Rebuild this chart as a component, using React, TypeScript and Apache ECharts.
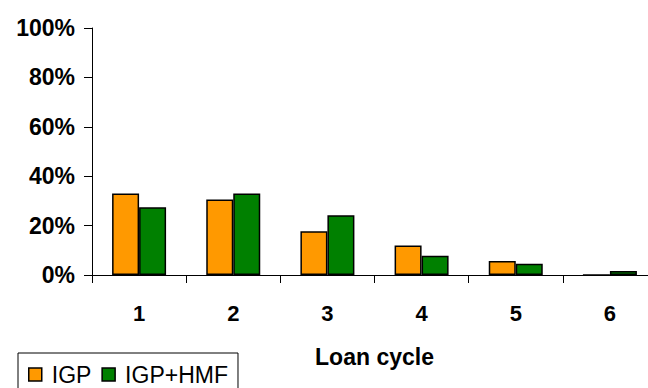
import React, { useEffect, useRef } from "react";
import * as echarts from "echarts";

const categories = ["1", "2", "3", "4", "5", "6"];
const igp = [33, 30.6, 17.7, 11.9, 5.7, 0];
const igpHmf = [27.4, 33, 24.2, 7.8, 4.6, 1.6];
const yTicks = [0, 20, 40, 60, 80, 100];

export default function App() {
  const ref = useRef<HTMLDivElement>(null);
  useEffect(() => {
    document.body.style.margin = "0";
    const chart = echarts.init(ref.current!, null, { renderer: "svg" });
    const font = "'Liberation Sans', Arial, sans-serif";
    chart.setOption({
      animation: false,
      backgroundColor: "#ffffff",
      grid: { left: 92, width: 565, top: 28, bottom: 113, containLabel: false },
      legend: {
        left: 18,
        top: 353,
        orient: "horizontal",
        borderColor: "#000",
        borderWidth: 1,
        padding: [10, 10, 10, 10],
        itemWidth: 13,
        itemHeight: 13,
        itemGap: 10,
        icon: "rect",
        textStyle: { fontFamily: font, fontSize: 23, color: "#000", padding: [0, 0, 0, 5] },
        data: [
          { name: "IGP", itemStyle: { color: "#FF9900", borderColor: "#000", borderWidth: 1.5 } },
          { name: "IGP+HMF", itemStyle: { color: "#008000", borderColor: "#000", borderWidth: 1.5 } },
        ],
      },
      xAxis: {
        type: "category",
        data: categories,
        name: "Loan cycle",
        nameLocation: "middle",
        nameGap: 70,
        nameTextStyle: { fontFamily: font, fontSize: 23, fontWeight: "bold", color: "#000" },
        axisLine: { lineStyle: { color: "#000", width: 1 } },
        axisTick: { show: true, length: 8, lineStyle: { color: "#000" } },
        axisLabel: { fontFamily: font, fontSize: 22, fontWeight: "bold", color: "#000", margin: 27 },
      },
      yAxis: {
        type: "value",
        min: 0,
        max: 100,
        interval: 20,
        axisLine: { show: true, lineStyle: { color: "#000", width: 1 } },
        axisTick: { show: true, length: 8, lineStyle: { color: "#000" } },
        splitLine: { show: false },
        axisLabel: {
          fontFamily: font,
          fontSize: 23,
          fontWeight: "bold",
          color: "#000",
          margin: 17,
          formatter: (v: number) => (yTicks.includes(v) ? v + "%" : ""),
        },
      },
      series: [
        {
          name: "IGP",
          type: "bar",
          data: igp,
          barWidth: 27,
          barGap: "0%",
          itemStyle: { color: "#FF9900", borderColor: "#000", borderWidth: 1.5 },
        },
        {
          name: "IGP+HMF",
          type: "bar",
          data: igpHmf,
          barWidth: 27,
          barGap: "0%",
          itemStyle: { color: "#008000", borderColor: "#000", borderWidth: 1.5 },
        },
      ],
    });
    return () => chart.dispose();
  }, []);
  return (
    <div style={{ width: 648, height: 388, overflow: "hidden", position: "relative" }}>
      <div ref={ref} style={{ width: 670, height: 388 }} />
    </div>
  );
}
